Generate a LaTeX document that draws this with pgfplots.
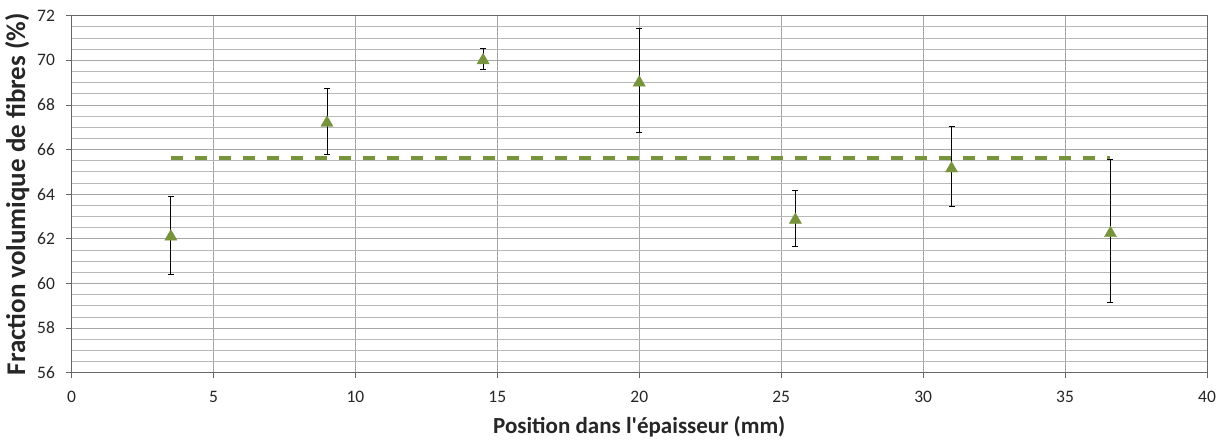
\documentclass[border=0pt]{standalone}
\usepackage{pgfplots}
\pgfplotsset{compat=1.18}
\usetikzlibrary{calc}
\usepackage{fontspec}
\setmainfont{Carlito}
\definecolor{olv}{HTML}{77933C}
\definecolor{gridc}{HTML}{A6A6A6}
\begin{document}
\begin{tikzpicture}
\begin{axis}[name=ax,
  scale only axis, width=1135.5pt, height=357pt,
  xmin=0, xmax=40, ymin=56, ymax=72,
  xtick={0,5,...,40}, ytick={56,58,...,72},
  minor y tick num=3,
  grid=both,
  major grid style={gridc, line width=0.8pt},
  minor grid style={gridc!80, line width=0.8pt},
  axis line style={gray!80!black, line width=0.9pt},
  tick style={gray!80!black, line width=0.8pt},
  major tick length=5pt, minor tick length=0pt,
  tick align=outside, xtick pos=bottom, ytick pos=left,
  /pgf/number format/assume math mode=true,
  ticklabel style={font=\fontsize{17.5}{19}\selectfont, text=black!85},
  yticklabel style={xshift=-8pt},
  xticklabel style={yshift=-10pt},
  xlabel={\textbf{Position dans l\textquotesingle épaisseur (mm)}},
  ylabel={\textbf{Fraction volumique de fibres (\%)}},
  xlabel style={font=\fontsize{23}{25}\selectfont, text=black!85, yshift=-7pt},
  ylabel style={font=\fontsize{27}{29}\selectfont, text=black!85, yshift=1pt},
]
\addplot[olv, line width=4pt, dash pattern=on 12pt off 12pt] coordinates {(3.5,65.6) (36.6,65.6)};
\addplot[only marks, mark=triangle*, mark size=7pt, mark options={fill=olv, draw=olv},
  error bars/.cd, y dir=both, y explicit, error mark options={rotate=90, black, mark size=3pt, line width=0.8pt},
  error bar style={black, line width=0.8pt}]
coordinates {
 (3.5,62.1) += (0,1.8) -= (0,1.7)
 (9.0,67.2) += (0,1.55) -= (0,1.4)
 (14.5,70.0) += (0,0.55) -= (0,0.4)
 (20.0,69.0) += (0,2.45) -= (0,2.25)
 (25.5,62.85) += (0,1.3) -= (0,1.2)
 (31.0,65.15) += (0,1.9) -= (0,1.7)
 (36.6,62.25) += (0,3.3) -= (0,3.1)
};
\end{axis}
\pgfresetboundingbox
\path ($(ax.south west)+(-71.5pt,-73.3pt)$) rectangle ($(ax.north east)+(17pt,15.7pt)$);
\end{tikzpicture}
\end{document}
